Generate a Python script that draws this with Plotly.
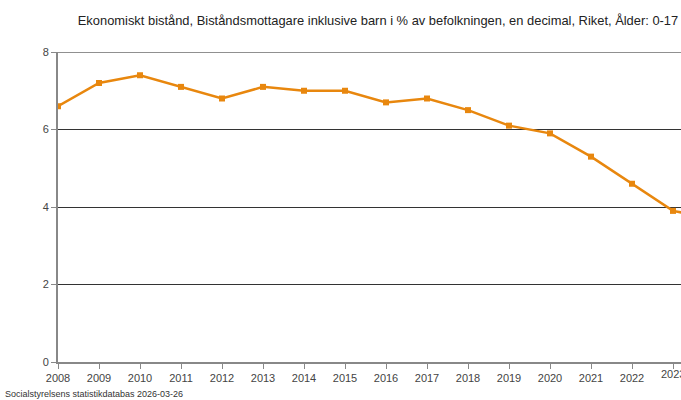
import plotly.graph_objects as go

years = list(range(2008, 2025))
values = [6.6, 7.2, 7.4, 7.1, 6.8, 7.1, 7.0, 7.0, 6.7, 6.8, 6.5, 6.1, 5.9, 5.3, 4.6, 3.9, 3.7]
x_ticks = list(range(2008, 2024))
y_ticks = [0, 2, 4, 6, 8]

title = "Ekonomiskt bistånd, Biståndsmottagare inklusive barn i % av befolkningen, en decimal, Riket, Ålder: 0-17"
footer = "Socialstyrelsens statistikdatabas 2026-03-26"

fig = go.Figure()
fig.add_trace(go.Scatter(
    x=years, y=values, mode="lines+markers",
    line=dict(color="#E8870E", width=2.5),
    marker=dict(symbol="square", size=6, color="#E8870E"),
    hoverinfo="x+y",
))

annotations = [dict(text=footer, xref="paper", yref="paper", x=-55/623, y=-32/310,
                    xanchor="left", yanchor="middle", showarrow=False,
                    font=dict(family="Liberation Sans Narrow, Arial Narrow, Liberation Sans, sans-serif",
                              size=9, color="#333"))]
# last tick label, which the reference shows cut off at the right edge
annotations.append(dict(text=str(x_ticks[-1]), xref="x", yref="paper", x=x_ticks[-1], y=0,
                        yshift=-12, xanchor="center", yanchor="middle", showarrow=False,
                        font=dict(size=11, color="#444")))

fig.update_layout(
    width=681, height=400,
    margin=dict(l=58, r=0, t=52, b=38),
    paper_bgcolor="white", plot_bgcolor="white",
    font=dict(family="Liberation Sans, Arial, sans-serif", size=11, color="#444"),
    showlegend=False,
    title=dict(text=title, x=378/681, xanchor="center", y=1 - 20/400, yanchor="middle",
               font=dict(size=12.9, color="#222")),
    annotations=annotations,
    shapes=[dict(type="line", xref="paper", yref="y", x0=0, x1=1, y0=y_ticks[-1], y1=y_ticks[-1],
                 line=dict(color="#222", width=1))],
)
fig.update_xaxes(
    range=[2008, 2023 + 8/41], tickvals=x_ticks, ticktext=[str(t) for t in x_ticks],
    showgrid=False, showline=True, linecolor="#888", linewidth=2,
    ticks="outside", ticklen=5, tickcolor="#888", zeroline=False,
    tickfont=dict(size=11), ticklabelstandoff=0,
)
fig.update_yaxes(
    range=[0, 8], tickvals=y_ticks,
    showgrid=True, gridcolor="#333", gridwidth=1,
    showline=True, linecolor="#888", linewidth=2,
    ticks="outside", ticklen=5, tickcolor="#888", zeroline=False,
)

fig.write_html("out.html", config={"displayModeBar": False},
               post_script="document.body.style.margin='0';")
